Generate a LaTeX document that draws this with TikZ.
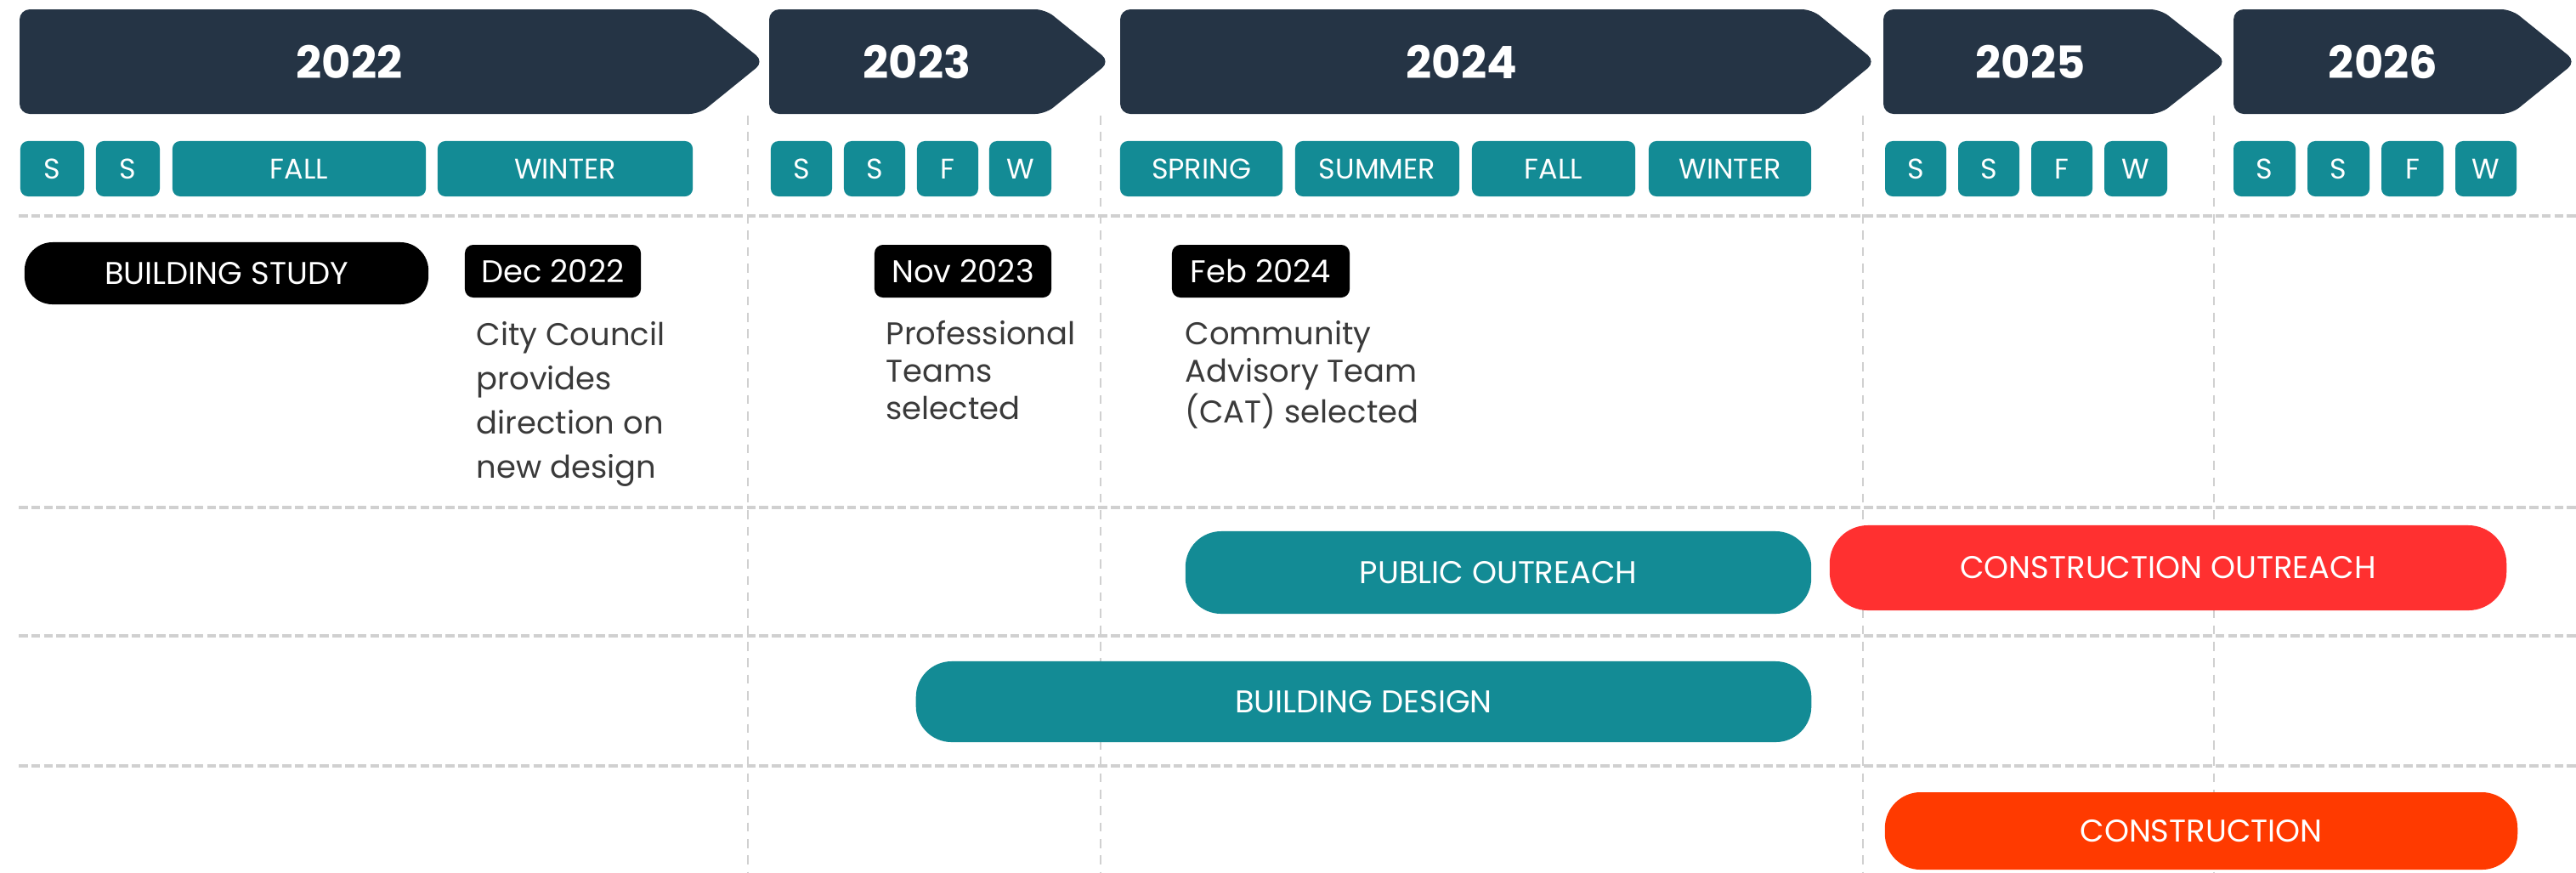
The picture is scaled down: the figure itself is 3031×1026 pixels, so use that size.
\documentclass[tikz,border=0pt]{standalone}
\usepackage{fontspec}
\setmainfont{Poppins}
\usepackage{xcolor}
\usetikzlibrary{positioning}
\definecolor{yearNavy}{RGB}{37,52,69}
\definecolor{seasonTeal}{RGB}{19,139,149}
\definecolor{outreachRed}{RGB}{255,48,48}
\definecolor{buildRed}{RGB}{255,58,0}
\definecolor{noteGray}{RGB}{58,58,58}
\definecolor{gridGray}{RGB}{208,208,208}

\begin{document}
\begin{tikzpicture}[x=0.01cm, y=-0.01cm,
	yeartext/.style={text=white, font=\fontsize{15}{18}\selectfont\bfseries},
	season/.style={fill=seasonTeal, text=white, rounded corners=0.09cm, minimum height=0.65cm, inner sep=0pt, font=\fontsize{9.5}{11}\selectfont},
	datebox/.style={fill=black, text=white, rounded corners=0.1cm, minimum height=0.62cm, inner sep=0pt, font=\fontsize{10.5}{12}\selectfont},
	note/.style={anchor=north west, align=left, inner sep=0pt, text=noteGray, font=\fontsize{10.5}{12.5}\selectfont},
	bar/.style={text=white, rounded corners=0.42cm, inner sep=0pt, font=\fontsize{10.5}{12}\selectfont},
	hgrid/.style={gridGray, line width=1.1pt, dash pattern=on 3pt off 1.2pt},
	vgrid/.style={gridGray, line width=0.8pt, dash pattern=on 3pt off 2.5pt}]
	
	\useasboundingbox (0,0) rectangle (3031,1026);
	\fill[white] (0,0) rectangle (3031,1026);
	
	% grid
	\foreach \gy in {254,597,748,901} \draw[hgrid] (22,\gy) -- (3031,\gy);
	\foreach \gx in {880,1295,2192,2605} \draw[vgrid] (\gx,136) -- (\gx,1026);
	
	% years
	\foreach \xa/\xb/\xc/\tx/\yr in {23/823/899/411/2022, 905/1230/1306/1079/2023, 1318/2132/2207/1720/2024, 2216/2542/2620/2389/2025, 2628/2955/3031/2804/2026}{
		\fill[yearNavy, rounded corners=0.12cm] (\xa,11) -- (\xb,11) -- (\xc,72.5) -- (\xb,134) -- (\xa,134) -- cycle;
		\node[yeartext] (y\yr) at (\tx,72.5) {\yr};
	}
	
	% seasons
	\foreach \cx/\w/\lab [count=\i] in {61.5/0.75/S, 150.5/0.75/S, 352/2.98/FALL, 665/3.0/WINTER,
		943/0.72/S, 1029/0.72/S, 1115/0.72/F, 1200.5/0.73/W,
		1413.5/1.91/SPRING, 1620.5/1.93/SUMMER, 1828/1.92/FALL, 2035.5/1.91/WINTER,
		2254/0.72/S, 2340/0.72/S, 2426/0.72/F, 2513/0.74/W,
		2664.5/0.73/S, 2751.5/0.73/S, 2838.5/0.73/F, 2925/0.72/W}
		\node[season, minimum width=\w cm] (s\i) at (\cx,198.5) {\lab};
	
	\node[bar, fill=black, minimum width=4.75cm, minimum height=0.73cm, rounded corners=0.33cm] (study) at (266.5,321.5) {BUILDING STUDY};
	\node[datebox, minimum width=2.07cm] (dec22) at (650.5,319) {Dec 2022};
	\node[datebox, minimum width=2.08cm] (nov23) at (1133,319) {Nov 2023};
	\node[datebox, minimum width=2.09cm] (feb24) at (1483.5,319) {Feb 2024};
	
	\node[note, font=\fontsize{10.5}{14.8}\selectfont] (council) at (560,378) {City Council\\provides\\direction on\\new design};
	\node[note] (teams) at (1042,377) {Professional\\Teams\\selected};
	\node[note] (cat) at (1394,377) {Community\\Advisory Team\\(CAT) selected};
	
	% phases
	\node[bar, fill=seasonTeal, minimum width=7.36cm, minimum height=0.97cm] (pubout) at (1763,673.5) {PUBLIC OUTREACH};
	\node[bar, fill=outreachRed, minimum width=7.96cm, minimum height=1.0cm, rounded corners=0.45cm] (conout) at (2551,668) {CONSTRUCTION OUTREACH};
	\node[bar, fill=seasonTeal, minimum width=10.53cm, minimum height=0.95cm] (design) at (1604.5,825.5) {BUILDING DESIGN};
	\node[bar, fill=buildRed, minimum width=7.44cm, minimum height=0.91cm] (constr) at (2590,977.5) {CONSTRUCTION};
	
\end{tikzpicture}
\end{document}
